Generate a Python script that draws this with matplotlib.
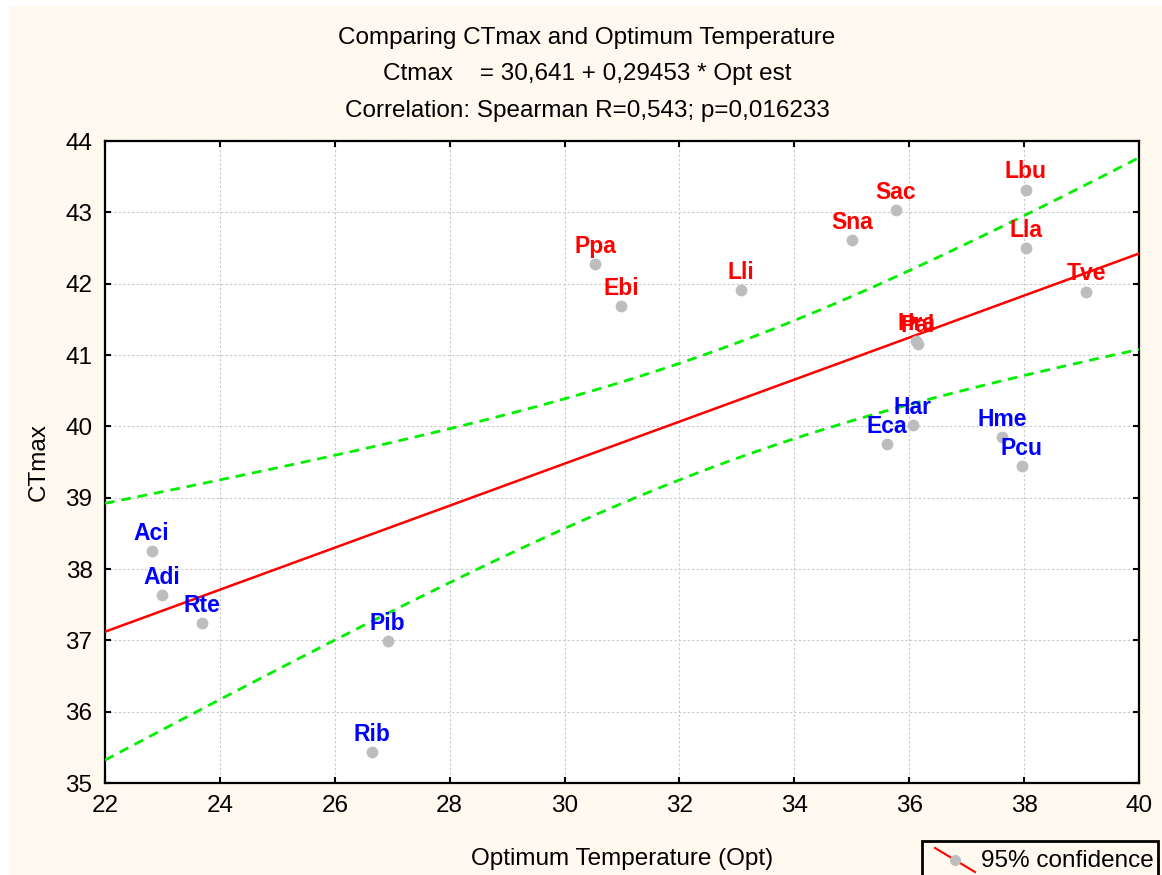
import numpy as np
import matplotlib.pyplot as plt
from matplotlib.patches import Rectangle
from matplotlib.lines import Line2D

plt.rcParams['font.family'] = ['Liberation Sans', 'DejaVu Sans']

# species codes, optimum temperature (x) and CTmax (y)
species = ['Aci', 'Adi', 'Rte', 'Pib', 'Rib',
           'Ppa', 'Ebi', 'Lli', 'Sna', 'Sac',
           'Lbu', 'Lla', 'Tve', 'Hra', 'Pal',
           'Har', 'Eca', 'Hme', 'Pcu']
opt_temp = [22.81, 22.99, 23.68, 26.92, 26.64,
            30.53, 30.98, 33.07, 35.01, 35.77,
            38.03, 38.03, 39.08, 36.12, 36.15,
            36.06, 35.61, 37.62, 37.96]
ct_max = [38.25, 37.63, 37.24, 36.99, 35.43,
          42.28, 41.69, 41.91, 42.61, 43.03,
          43.32, 42.50, 41.89, 41.20, 41.16,
          40.02, 39.75, 39.85, 39.44]
group = ['B', 'B', 'B', 'B', 'B',
         'A', 'A', 'A', 'A', 'A',
         'A', 'A', 'A', 'A', 'A',
         'B', 'B', 'B', 'B']

intercept = 30.641
slope = 0.29453
t_crit = 2.1098  # t(0.975, df = 17)

x_ticks = list(range(22, 41, 2))
y_ticks = list(range(35, 45))

W, H = 1162, 875
cream = '#fff9ef'
group_color = {'A': '#ff0000', 'B': '#0000ff'}


def fx(px):
    return px / W


def fy(py):
    return 1 - py / H


x = np.array(opt_temp)
y = np.array(ct_max)
n = len(x)

# regression line + 95% confidence band of the mean
xs = np.linspace(x_ticks[0], x_ticks[-1], 300)
fit = intercept + slope * xs
resid = y - (intercept + slope * x)
s = np.sqrt(np.sum(resid ** 2) / (n - 2))
sxx = np.sum((x - x.mean()) ** 2)
half = t_crit * s * np.sqrt(1 / n + (xs - x.mean()) ** 2 / sxx)

fig = plt.figure(figsize=(W / 100, H / 100), dpi=100)
fig.patch.set_facecolor('white')
fig.patches.append(Rectangle((fx(9), 0), 1, fy(6), transform=fig.transFigure,
                             facecolor=cream, edgecolor='none', zorder=-10))

ax = fig.add_axes([fx(105), fy(783), fx(1139) - fx(105), fy(141) - fy(783)])
ax.set_facecolor('white')

ax.plot(xs, fit, color='#ff0000', lw=1.8, zorder=3)
for band in (fit + half, fit - half):
    ln, = ax.plot(xs, band, color='#00ee00', lw=2, zorder=3)
    ln.set_dashes((3.5, 2.5))

ax.plot(x, y, 'o', color='#bdbdbd', markersize=8.5, markeredgewidth=0, zorder=4)
for name, xi, yi, g in zip(species, opt_temp, ct_max, group):
    ax.annotate(name, (xi, yi), xytext=(0, 8), textcoords='offset points',
                ha='center', va='baseline', fontsize=16.5, fontweight='bold',
                color=group_color[g], zorder=5)

ax.set_xlim(x_ticks[0], x_ticks[-1])
ax.set_ylim(y_ticks[0], y_ticks[-1])
ax.set_xticks(x_ticks)
ax.set_yticks(y_ticks)
ax.grid(True, color='#c8c8c8', linestyle=(0, (2, 2)), linewidth=0.8)
ax.tick_params(direction='in', length=4, width=1.5, top=True, right=True,
               labelsize=17.5)
ax.tick_params(axis='x', pad=9)
ax.tick_params(axis='y', pad=9)
for sp in ax.spines.values():
    sp.set_linewidth(1.6)
    sp.set_color('black')

ax.set_xlabel('Optimum Temperature (Opt)', fontsize=17.5, labelpad=22)
ax.set_ylabel('CTmax', fontsize=17.5, labelpad=11)

# three-line heading
heading = ['Comparing CTmax and Optimum Temperature',
           'Ctmax    = 30,641 + 0,29453 * Opt est',
           'Correlation: Spearman R=0,543; p=0,016233']
for line, py in zip(heading, (38, 74, 111)):
    fig.text(fx(587), fy(py), line, ha='center', va='center', fontsize=17.5)

# legend box in the lower right corner
fig.patches.append(Rectangle((fx(922), fy(880)), fx(1158) - fx(922), fy(841) - fy(880),
                             transform=fig.transFigure, facecolor=cream,
                             edgecolor='black', linewidth=2, zorder=5))
fig.lines.append(Line2D([fx(935), fx(975)], [fy(848), fy(872)], transform=fig.transFigure,
                        color='#ff0000', lw=1.5, zorder=6))
fig.lines.append(Line2D([fx(955)], [fy(860)], transform=fig.transFigure, marker='o',
                        color='#bdbdbd', markersize=8, markeredgewidth=0, zorder=7))
fig.text(fx(981), fy(861), '95% confidence', ha='left', va='center', fontsize=17.5, zorder=8)

fig.savefig('out.png', dpi=100, facecolor=fig.get_facecolor())
